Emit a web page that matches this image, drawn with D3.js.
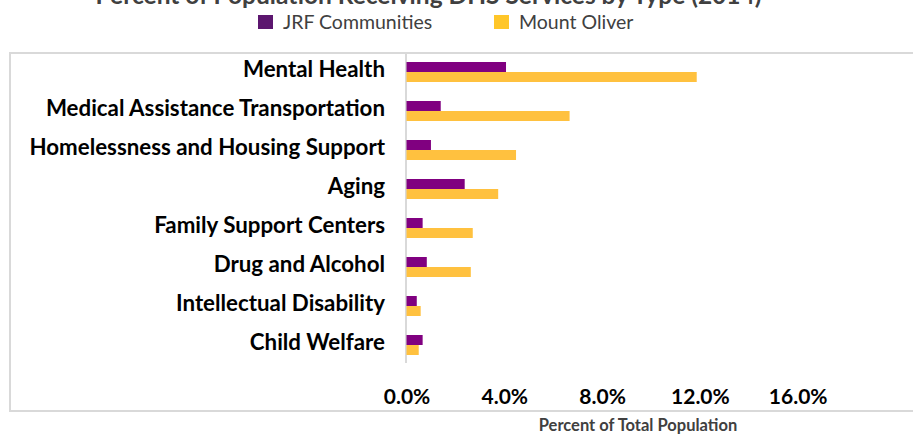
<!DOCTYPE html>
<html>
<head>
<meta charset="utf-8">
<script src="https://cdn.jsdelivr.net/npm/d3@7"></script>
<style>
  html, body { margin: 0; padding: 0; background: #fff; }
  svg { display: block; }
</style>
</head>
<body>
<svg id="chart" width="913" height="436"></svg>
<script>
const categories = ["Mental Health", "Medical Assistance Transportation", "Homelessness and Housing Support", "Aging", "Family Support Centers", "Drug and Alcohol", "Intellectual Disability", "Child Welfare"];
const seriesNames = ["JRF Communities", "Mount Oliver"];
const jrfValues = [4.07, 1.40, 1.00, 2.38, 0.66, 0.83, 0.42, 0.66];
const mountOliverValues = [11.87, 6.67, 4.48, 3.75, 2.71, 2.63, 0.58, 0.50];
const xTicks = [0, 4, 8, 12, 16];
const titleText = "Percent of Population Receiving DHS Services by Type (2014)";
const xAxisTitle = "Percent of Total Population";

const barColors = ["#800080", "#FFC13F"];
const legendColors = ["#5C166F", "#FFC629"];
const font = "Lato, 'Open Sans', sans-serif";

const svg = d3.select("#chart");

const x = d3.scaleLinear().domain([0, 16]).range([406.5, 797.7]);
const y = d3.scaleBand().domain(categories).range([52.5, 364.5]).paddingInner(0).paddingOuter(0);
const barH = 10;

// frame
svg.append("path")
  .attr("d", `M 913 53 L 10 53 L 10 411 L 913 411`)
  .attr("fill", "none").attr("stroke", "#d9d9d9").attr("stroke-width", 2);

// title (partially cut off at top, as in the reference)
svg.append("text")
  .attr("x", 428.5).attr("y", 4)
  .attr("text-anchor", "middle")
  .attr("font-family", font).attr("font-weight", "bold")
  .attr("font-size", 24.5).attr("fill", "#404040")
  .text(titleText);

// legend
const legendX = [258, 494];
const legend = svg.append("g");
seriesNames.forEach((name, i) => {
  legend.append("rect").attr("x", legendX[i]).attr("y", 15).attr("width", 15).attr("height", 14)
    .attr("fill", legendColors[i]);
  legend.append("text").attr("x", legendX[i] + 25).attr("y", 28.5)
    .attr("font-family", font).attr("font-size", 19.5).attr("fill", "#404040")
    .text(name);
});

// y axis line
svg.append("line").attr("x1", 406).attr("x2", 406).attr("y1", 53).attr("y2", 363)
  .attr("stroke", "#d9d9d9").attr("stroke-width", 2);

// bars
const rows = categories.map((c, i) => ({ cat: c, vals: [jrfValues[i], mountOliverValues[i]] }));
const g = svg.append("g");
rows.forEach(r => {
  const cy = y(r.cat) + y.bandwidth() / 2;
  r.vals.forEach((v, j) => {
    g.append("rect")
      .attr("x", x(0))
      .attr("y", j === 0 ? cy - barH : cy)
      .attr("width", x(v) - x(0))
      .attr("height", barH)
      .attr("fill", barColors[j]);
  });
});

// category labels
const yAxis = d3.axisLeft(y).tickSize(0).tickPadding(0);
const yg = svg.append("g").attr("transform", "translate(385,0)").call(yAxis);
yg.select(".domain").remove();
yg.selectAll("text")
  .attr("font-family", font).attr("font-weight", "bold").attr("font-size", 22.3)
  .attr("fill", "#000").attr("dy", "0.22em");

// x axis tick labels
const xAxis = d3.axisBottom(x).tickValues(xTicks).tickSize(0).tickPadding(0)
  .tickFormat(d => d3.format(".1f")(d) + "%");
const xg = svg.append("g").attr("transform", "translate(0,403.5)").call(xAxis);
xg.select(".domain").remove();
xg.selectAll("text")
  .attr("font-family", font).attr("font-weight", "bold").attr("font-size", 21)
  .attr("fill", "#000").attr("dy", 0).attr("y", 0);

// x axis title
svg.append("text").attr("x", 638).attr("y", 431)
  .attr("text-anchor", "middle")
  .attr("font-family", font).attr("font-weight", "bold").attr("font-size", 16.5)
  .attr("fill", "#404040")
  .text(xAxisTitle);
</script>
</body>
</html>
